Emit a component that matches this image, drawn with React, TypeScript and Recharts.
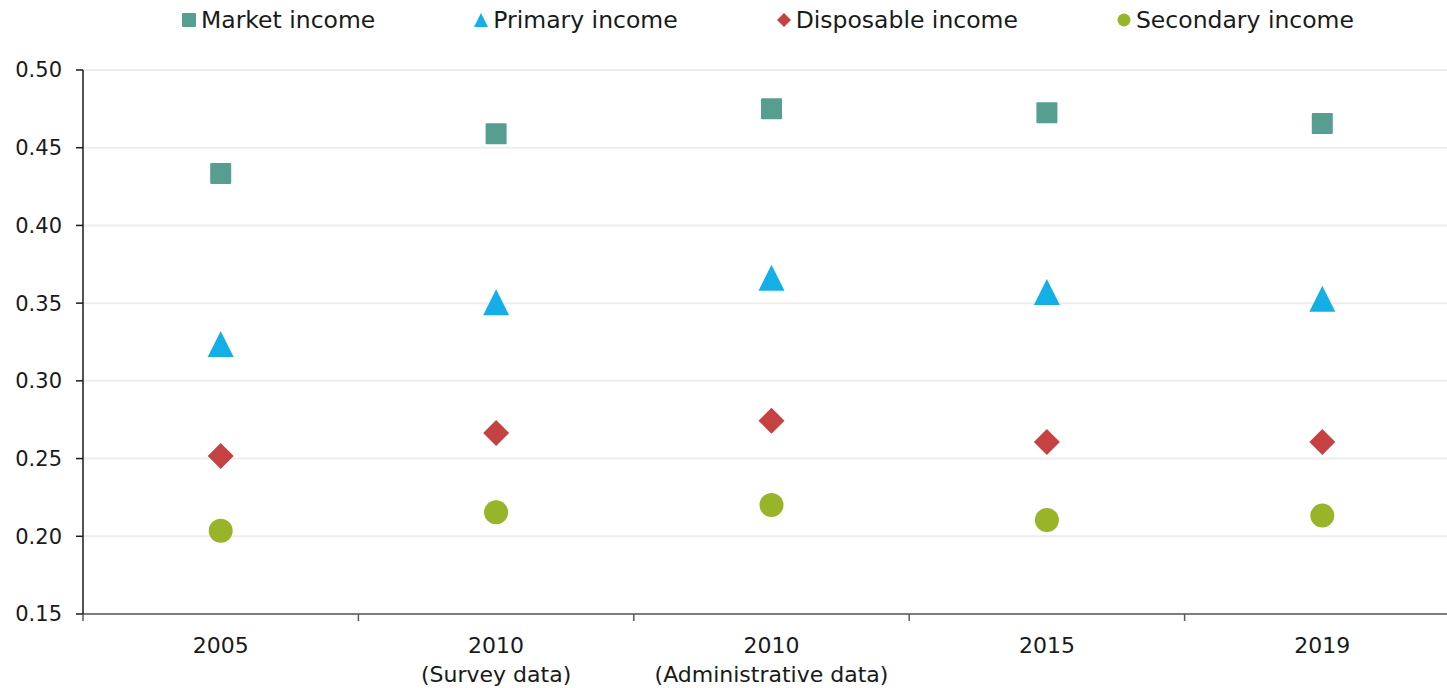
import React from 'react';
import { ComposedChart, Scatter, XAxis, YAxis, CartesianGrid, Legend } from 'recharts';

const categories = ['2005', '2010\n(Survey data)', '2010\n(Administrative data)', '2015', '2019'];
const marketIncome = [0.4334, 0.459, 0.4751, 0.4725, 0.4656];
const primaryIncome = [0.3237, 0.3506, 0.3663, 0.3571, 0.3528];
const disposableIncome = [0.2516, 0.2665, 0.2744, 0.2607, 0.2607];
const secondaryIncome = [0.2035, 0.2154, 0.2201, 0.2105, 0.2133];
const yTicks = [0.15, 0.2, 0.25, 0.3, 0.35, 0.4, 0.45, 0.5];

type Kind = 'square' | 'triangle' | 'diamond' | 'circle';

const series: { key: string; name: string; color: string; kind: Kind; values: number[] }[] = [
    { key: 'market', name: 'Market income', color: '#569e90', kind: 'square', values: marketIncome },
    { key: 'primary', name: 'Primary income', color: '#14afe6', kind: 'triangle', values: primaryIncome },
    { key: 'disposable', name: 'Disposable income', color: '#c54242', kind: 'diamond', values: disposableIncome },
    { key: 'secondary', name: 'Secondary income', color: '#98b429', kind: 'circle', values: secondaryIncome },
];

const rows = categories.map((category, i) => {
    const row: Record<string, string | number> = { category };
    series.forEach((s) => { row[s.key] = s.values[i]; });
    return row;
});

const FONT = '"DejaVu Sans", sans-serif';

function Marker({ kind, cx, cy, color, size }: { kind: Kind; cx: number; cy: number; color: string; size: number }) {
    const h = size / 2;
    if (kind === 'square') return <rect x={cx - h} y={cy - h} width={size} height={size} rx={1} fill={color} />;
    if (kind === 'triangle') return <polygon points={`${cx},${cy - h} ${cx + h},${cy + h} ${cx - h},${cy + h}`} fill={color} />;
    if (kind === 'diamond') return <polygon points={`${cx},${cy - h} ${cx + h},${cy} ${cx},${cy + h} ${cx - h},${cy}`} fill={color} />;
    return <circle cx={cx} cy={cy} r={h} fill={color} />;
}

const markerSize: Record<Kind, number> = { square: 21, triangle: 26, diamond: 26, circle: 24 };

// category labels sit under the band centre; tick marks go on the band edges
function CategoryTick(props: any) {
    const { x, y, payload } = props;
    const half = payload.offset ?? 0;
    const lines = String(payload.value).split('\n');
    return (
        <g>
            <line x1={x - half} x2={x - half} y1={y} y2={y + 7} stroke="#595959" strokeWidth={1.5} />
            <text x={x} y={y} textAnchor="middle" fill="#1a1a1a" fontSize={22} fontFamily={FONT}>
                {lines.map((line, i) => (
                    <tspan key={i} x={x} dy={i === 0 ? 39 : 29}>{line}</tspan>
                ))}
            </text>
        </g>
    );
}

function LegendContent() {
    return (
        <div style={{ height: 70, display: 'flex', alignItems: 'flex-start', paddingLeft: 181, gap: 98, fontFamily: FONT, fontSize: 23.5, color: '#1a1a1a' }}>
            {series.map((s) => (
                <div key={s.key} style={{ display: 'flex', alignItems: 'center', marginTop: 5, lineHeight: '30px' }}>
                    <svg width={16} height={16} style={{ marginRight: 4 }}>
                        <Marker kind={s.kind} cx={8} cy={8} color={s.color} size={s.kind === 'circle' ? 13 : 14} />
                    </svg>
                    <span>{s.name}</span>
                </div>
            ))}
        </div>
    );
}

export default function App() {
    return (
        <div style={{ position: 'absolute', left: 0, top: 0, width: 1447, height: 688, overflow: 'hidden', background: '#fff' }}>
            <ComposedChart width={1470} height={688} data={rows} margin={{ top: 0, right: 10, left: 0, bottom: 0 }}>
                <CartesianGrid vertical={false} stroke="#ededed" strokeWidth={2} />
                <XAxis
                    dataKey="category"
                    type="category"
                    scale="band"
                    height={74}
                    tickLine={false}
                    tickSize={0}
                    tickMargin={0}
                    axisLine={{ stroke: '#595959', strokeWidth: 1.5 }}
                    tick={<CategoryTick />}
                    interval={0}
                />
                <YAxis
                    type="number"
                    domain={[0.15, 0.5]}
                    ticks={yTicks}
                    width={83}
                    tickSize={7}
                    tickMargin={14}
                    axisLine={{ stroke: '#1a1a1a', strokeWidth: 1.5 }}
                    tickLine={{ stroke: '#1a1a1a', strokeWidth: 1.5 }}
                    tick={{ fill: '#1a1a1a', fontSize: 21, fontFamily: FONT }}
                    tickFormatter={(v: number) => v.toFixed(2)}
                />
                <Legend verticalAlign="top" align="left" content={<LegendContent />} />
                {series.map((s) => (
                    <Scatter
                        key={s.key}
                        name={s.name}
                        dataKey={s.key}
                        fill={s.color}
                        isAnimationActive={false}
                        shape={(p: any) => <Marker kind={s.kind} cx={p.cx} cy={p.cy} color={s.color} size={markerSize[s.kind]} />}
                    />
                ))}
            </ComposedChart>
        </div>
    );
}
